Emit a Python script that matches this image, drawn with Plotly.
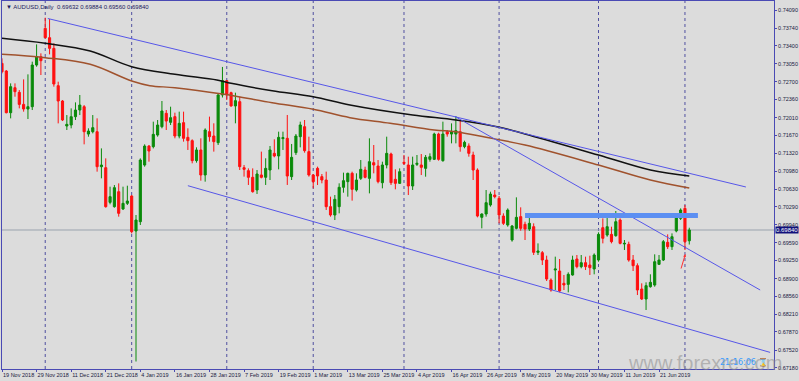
import plotly.graph_objects as go

# ---------------- data ----------------
opens = [0.73059,0.72911,0.72106,0.72589,0.72499,0.72267,0.72177,0.72222,0.73027,0.73188,
         0.73735,0.73555,0.73349,0.72628,0.72332,0.71849,0.71868,0.72029,0.72158,0.72222,
         0.71694,0.71739,0.71739,0.71063,0.71044,0.70374,0.70291,0.70580,0.70246,0.70355,
         0.70497,0.69821,0.70001,0.71095,0.71462,0.71450,0.71675,0.71836,0.72094,0.71920,
         0.72030,0.71656,0.71914,0.71630,0.71566,0.71180,0.71386,0.70903,0.71740,0.71656,
         0.71527,0.72448,0.72725,0.72493,0.72236,0.72319,0.71044,0.70986,0.70858,0.70613,
         0.70903,0.70858,0.70999,0.71321,0.71270,0.71605,0.71611,0.70871,0.71334,0.71643,
         0.71836,0.71354,0.70903,0.71031,0.70871,0.70806,0.70291,0.70130,0.70291,0.70665,
         0.70774,0.70935,0.70613,0.70838,0.70999,0.70838,0.71141,0.71076,0.70754,0.71096,
         0.71308,0.70819,0.70741,0.71147,0.71096,0.70690,0.71108,0.71096,0.71031,0.71205,
         0.71205,0.71694,0.71179,0.71739,0.71694,0.71694,0.71739,0.71450,0.71463,0.71289,
         0.70999,0.70085,0.70149,0.70323,0.70516,0.70452,0.70110,0.69937,0.69647,0.69872,
         0.70098,0.69949,0.69859,0.69904,0.69408,0.69402,0.69260,0.68874,0.69067,0.69048,
         0.68810,0.68790,0.68971,0.69280,0.69132,0.69209,0.69164,0.69087,0.69260,0.69885,
         0.69743,0.69756,0.69730,0.70033,0.69570,0.69563,0.69260,0.69151,0.68700,0.68507,
         0.68745,0.68777,0.69177,0.69260,0.69602,0.69518,0.69821,0.70065,0.70258,0.69632]
highs = [0.73156,0.72931,0.72673,0.72673,0.72544,0.72750,0.72847,0.73092,0.73426,0.73253,
         0.73941,0.73916,0.73446,0.72705,0.72351,0.72061,0.72190,0.72306,0.72448,0.72254,
         0.71804,0.72061,0.71997,0.71417,0.71224,0.70677,0.70709,0.70741,0.70677,0.70696,
         0.70516,0.70130,0.71224,0.71495,0.71482,0.71933,0.71965,0.72332,0.72158,0.72222,
         0.72107,0.72126,0.72126,0.71804,0.71592,0.71437,0.71611,0.71804,0.72030,0.71901,
         0.72467,0.72990,0.72738,0.72512,0.72493,0.72416,0.71096,0.71031,0.71031,0.70999,
         0.71354,0.71225,0.71463,0.71592,0.71740,0.71740,0.72062,0.71502,0.71695,0.71933,
         0.71965,0.71643,0.70922,0.71064,0.70922,0.70967,0.70484,0.70516,0.70742,0.70948,
         0.70948,0.70967,0.70935,0.71192,0.71063,0.71611,0.71482,0.71192,0.71160,0.71643,
         0.71334,0.71012,0.71031,0.71289,0.71257,0.71257,0.71289,0.71308,0.71289,0.71321,
         0.71720,0.71720,0.71933,0.71772,0.71900,0.72042,0.71965,0.71566,0.71514,0.71353,
         0.71031,0.70162,0.70613,0.70580,0.70613,0.70497,0.70162,0.70258,0.69937,0.70471,
         0.70278,0.70001,0.70162,0.69969,0.69582,0.69434,0.69344,0.68906,0.69325,0.69280,
         0.68971,0.69022,0.69344,0.69357,0.69357,0.69325,0.69344,0.69389,0.69795,0.70065,
         0.70097,0.69904,0.70207,0.70065,0.69647,0.69615,0.69357,0.69196,0.68810,0.68829,
         0.68984,0.69370,0.69357,0.69647,0.69756,0.69775,0.70117,0.70258,0.70323,0.69884]
lows =  [0.72866,0.72094,0.71997,0.72415,0.72190,0.72126,0.71984,0.72158,0.72995,0.72834,
         0.73542,0.73233,0.72609,0.71900,0.71945,0.71772,0.71804,0.71965,0.72061,0.71495,
         0.71643,0.71707,0.70967,0.70838,0.70271,0.70336,0.70271,0.70098,0.70226,0.70323,
         0.69775,0.67300,0.69937,0.71063,0.71160,0.71417,0.71643,0.71804,0.71772,0.71868,
         0.71611,0.71611,0.71547,0.71386,0.71128,0.71141,0.70793,0.70774,0.71547,0.71354,
         0.71482,0.72400,0.72351,0.72223,0.71901,0.70999,0.70871,0.70710,0.70561,0.70536,
         0.70838,0.70710,0.70806,0.71244,0.71012,0.71386,0.70710,0.70806,0.71289,0.71437,
         0.71334,0.70871,0.70645,0.70710,0.70742,0.70227,0.70098,0.70033,0.70162,0.70561,
         0.70484,0.70407,0.70582,0.70806,0.70838,0.70548,0.70935,0.70741,0.70645,0.71031,
         0.70709,0.70626,0.70729,0.71096,0.70516,0.70613,0.71076,0.70902,0.70870,0.71160,
         0.71192,0.71179,0.71160,0.71643,0.71514,0.71514,0.71353,0.71418,0.71257,0.70806,
         0.70085,0.69872,0.70098,0.70291,0.70452,0.69969,0.69937,0.69904,0.69615,0.69853,
         0.69827,0.69647,0.69821,0.69357,0.69357,0.69164,0.68855,0.68649,0.68681,0.68636,
         0.68681,0.68636,0.68958,0.69100,0.69100,0.69067,0.68971,0.68984,0.69228,0.69582,
         0.69711,0.69582,0.69711,0.69563,0.69454,0.69228,0.69048,0.68584,0.68488,0.68295,
         0.68726,0.68745,0.69164,0.69241,0.69473,0.69454,0.69795,0.70033,0.69454,0.69560]
closes = [0.72898,0.72106,0.72609,0.72512,0.72267,0.72177,0.72222,0.73027,0.73188,0.73111,
          0.73555,0.73349,0.72660,0.72332,0.71965,0.71881,0.72029,0.72158,0.72254,0.71739,
          0.71752,0.71817,0.71063,0.71095,0.70291,0.70484,0.70658,0.70162,0.70355,0.70400,
          0.69808,0.70033,0.71192,0.71462,0.71366,0.71688,0.71868,0.72139,0.71945,0.72010,
          0.71656,0.71901,0.71611,0.71566,0.71180,0.71386,0.70903,0.71772,0.71643,0.71547,
          0.72448,0.72725,0.72448,0.72236,0.72339,0.71064,0.71012,0.70858,0.70581,0.70922,
          0.70858,0.71031,0.71386,0.71270,0.71630,0.71624,0.70883,0.71244,0.71656,0.71869,
          0.71373,0.70903,0.70774,0.70883,0.70806,0.70291,0.70130,0.70433,0.70665,0.70793,
          0.70935,0.70626,0.70806,0.71012,0.70857,0.71160,0.71096,0.70774,0.71096,0.71321,
          0.70754,0.70741,0.70967,0.71128,0.70690,0.71096,0.71128,0.71051,0.71244,0.71257,
          0.71694,0.71205,0.71694,0.71694,0.71739,0.71759,0.71450,0.71534,0.71321,0.70999,
          0.70110,0.70149,0.70368,0.70535,0.70484,0.70130,0.69969,0.70226,0.69917,0.70085,
          0.69872,0.69859,0.69969,0.69408,0.69434,0.69260,0.68893,0.68681,0.69087,0.68662,
          0.68778,0.68984,0.69260,0.69132,0.69209,0.69132,0.69112,0.69357,0.69756,0.69679,
          0.69904,0.69615,0.70001,0.69582,0.69582,0.69260,0.69151,0.68681,0.68507,0.68765,
          0.68829,0.69228,0.69260,0.69615,0.69518,0.69711,0.70078,0.70226,0.69615,0.69840]

date_ticks = [0, 8, 16, 24, 32, 40, 48, 56, 64, 72, 80, 88, 96, 104, 112, 120, 128, 136, 144, 152]
date_labels = ["19 Nov 2018", "29 Nov 2018", "11 Dec 2018", "21 Dec 2018", "4 Jan 2019",
               "16 Jan 2019", "28 Jan 2019", "7 Feb 2019", "19 Feb 2019", "1 Mar 2019",
               "13 Mar 2019", "25 Mar 2019", "4 Apr 2019", "16 Apr 2019", "26 Apr 2019",
               "8 May 2019", "20 May 2019", "30 May 2019", "11 Jun 2019", "21 Jun 2019"]
price_ticks = [0.74090, 0.73740, 0.73400, 0.73050, 0.72700, 0.72360, 0.72010, 0.71670,
               0.71320, 0.70980, 0.70630, 0.70290, 0.69940, 0.69590, 0.69250, 0.68900,
               0.68560, 0.68210, 0.67870, 0.67520, 0.67180]
month_starts = [10, 30, 52, 72, 93, 115, 138, 158]

ma_black_x = [0, 10, 20.4, 30, 40, 49.7, 53, 62.5, 72, 80.5, 95, 105, 114.5, 121, 138, 150, 159]
ma_black_y = [0.73543, 0.73447, 0.73298, 0.72995, 0.72848, 0.72738, 0.72674, 0.72531, 0.72415,
              0.72255, 0.72062, 0.71965, 0.71836, 0.71695, 0.71289, 0.70999, 0.70883]
ma_brown_x = [0, 10, 20.4, 30, 34.2, 40, 51, 62.5, 72, 80.5, 89.8, 100, 105, 112, 121, 138, 150, 159]
ma_brown_y = [0.73234, 0.73169, 0.73041, 0.72718, 0.72628, 0.72589, 0.72467, 0.72299, 0.72172,
              0.72010, 0.71901, 0.71772, 0.71739, 0.71631, 0.71482, 0.71096, 0.70806, 0.70651]

trendlines = [  # (bar0, price0, bar1, price1)
    (10.6, 0.73926, 172.1, 0.70671),
    (43.0, 0.70696, 177.7, 0.67476),
    (104.8, 0.72033, 175.4, 0.68681),
]
resistance = (121, 161, 0.70120)
current_price = 0.69840
header = "▼ AUDUSD,Daily  0.69632 0.69884 0.69560 0.69840"

# ---------------- figure ----------------
BG = "#dcdcdc"
AX = "#4a4ab4"
TL = "#5656e8"
x = list(range(len(opens)))

fig = go.Figure()
fig.add_trace(go.Candlestick(
    x=x, open=opens, high=highs, low=lows, close=closes,
    increasing=dict(line=dict(color="#0a8a0a", width=1), fillcolor="#0a8a0a"),
    decreasing=dict(line=dict(color="#ff1010", width=1), fillcolor="#ff1010"),
    whiskerwidth=0, showlegend=False, hoverinfo="skip"))
fig.add_trace(go.Scatter(x=ma_brown_x, y=ma_brown_y, mode="lines",
                         line=dict(color="#a0522d", width=1.5, shape="spline"), showlegend=False))
fig.add_trace(go.Scatter(x=ma_black_x, y=ma_black_y, mode="lines",
                         line=dict(color="#111111", width=1.5, shape="spline"), showlegend=False))

shapes = []
for m in month_starts:
    shapes.append(dict(type="line", xref="x", yref="paper", x0=m, x1=m, y0=0, y1=1,
                       line=dict(color="#5050a0", width=1, dash="dot"), layer="below"))
shapes.append(dict(type="line", xref="paper", yref="y", x0=0, x1=1, y0=current_price, y1=current_price,
                   line=dict(color="#9aa3ae", width=1), layer="below"))
for (a0, p0, a1, p1) in trendlines:
    shapes.append(dict(type="line", xref="x", yref="y", x0=a0, y0=p0, x1=a1, y1=p1,
                       line=dict(color=TL, width=1)))
shapes.append(dict(type="line", xref="x", yref="y", x0=resistance[0], x1=resistance[1],
                   y0=resistance[2], y1=resistance[2], line=dict(color="#5c8ff2", width=5)))

annotations = [
    dict(xref="paper", yref="paper", x=0, y=1, xanchor="left", yanchor="top", xshift=2, yshift=-1,
         text=header, showarrow=False, font=dict(size=6, color="#1a1a60", family="Liberation Sans")),
    dict(xref="paper", yref="y", x=1, y=current_price, xanchor="left", yanchor="middle", xshift=1,
         text="0.69840", showarrow=False, bgcolor="#10107a", borderpad=0,
         font=dict(size=6, color="#ffffff", family="Liberation Sans")),
    dict(x=158.1, y=0.69376, ax=157.0, ay=0.69067, xref="x", yref="y", axref="x", ayref="y",
         showarrow=True, arrowhead=2, arrowsize=0.6, arrowwidth=1, arrowcolor="#ff3030", text=""),
    dict(xref="paper", yref="paper", x=0.911, y=0.016, xanchor="center", yanchor="middle",
         text="www.forexre.com", showarrow=False,
         font=dict(size=20, color="rgba(140,140,140,0.55)", family="Liberation Sans")),
    dict(xref="paper", yref="paper", x=0.961, y=0.02, xanchor="center", yanchor="middle",
         text="21:16:06 ⌛", showarrow=False,
         font=dict(size=8, color="#3a9cff", family="DejaVu Sans")),
]

fig.update_layout(
    width=799, height=381,
    margin=dict(l=2, r=25, t=1, b=12),
    paper_bgcolor=BG, plot_bgcolor=BG,
    shapes=shapes, annotations=annotations,
    showlegend=False,
    xaxis=dict(range=[0, 178.6], rangeslider=dict(visible=False), showgrid=False, zeroline=False,
               showline=True, linecolor=AX, linewidth=1, mirror=True, automargin=False,
               tickmode="array", tickvals=date_ticks, ticktext=date_labels, tickangle=0,
               ticks="outside", ticklen=2, tickcolor=AX, ticklabelposition="outside right",
               tickfont=dict(size=5.5, color="#1a1a40", family="Liberation Sans")),
    yaxis=dict(range=[0.67155, 0.74264], side="right", showgrid=False, zeroline=False,
               showline=True, linecolor=AX, linewidth=1, mirror=True, automargin=False,
               tickmode="array", tickvals=price_ticks, ticktext=[f"{v:.5f}" for v in price_ticks],
               ticks="outside", ticklen=2, tickcolor=AX,
               tickfont=dict(size=5.5, color="#1a1a40", family="Liberation Sans")),
)

fig.write_html("out.html", config={"displayModeBar": False},
               post_script="document.body.style.margin='0px';document.body.style.background='#dcdcdc';")
